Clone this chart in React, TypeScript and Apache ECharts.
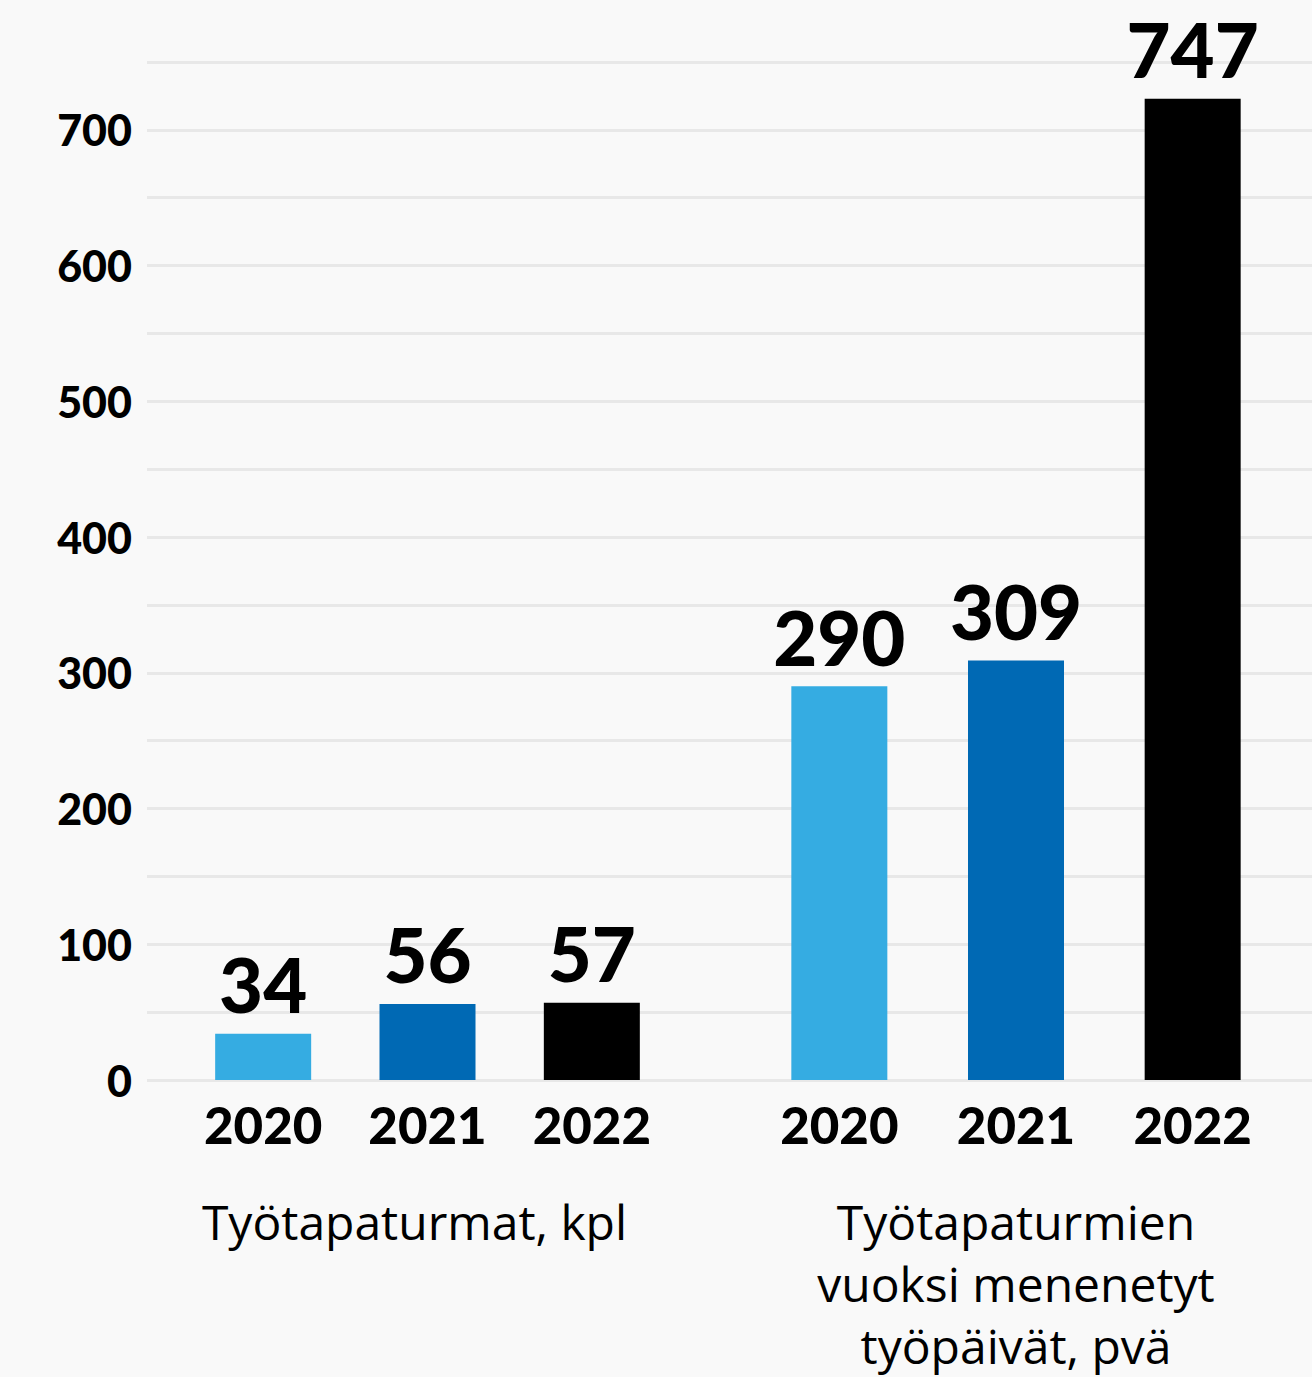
import React, { useEffect, useRef } from "react";
import * as echarts from "echarts";

// ---- data ----
const years = ["2020", "2021", "2022"];
const accidentValues = [34, 56, 57];
const lostDaysLabels = ["290", "309", "747"];
const lostDaysBars = [290, 309, 723]; // bar heights as drawn in the picture
const barColors = ["#35ace2", "#0069b4", "#000000"];
const groupNames = ["Työtapaturmat, kpl", "Työtapaturmien\nvuoksi menenetyt\ntyöpäivät, pvä"];
const yTicks = [0, 100, 200, 300, 400, 500, 600, 700];
const yMax = 750;
const yStep = 50;

export default function App() {
  const ref = useRef<HTMLDivElement>(null);

  useEffect(() => {
    document.body.style.margin = "0";
    const chart = echarts.init(ref.current!, null, { renderer: "svg" });

    const top = 62;
    const height = 1018;

    const valueLabel = {
      show: true,
      position: "top",
      distance: 12,
      fontFamily: "Lato",
      fontWeight: 900,
      fontSize: 76,
      color: "#000",
    };

    const hiddenY = (gridIndex: number) => ({
      type: "value",
      gridIndex,
      min: 0,
      max: yMax,
      interval: yStep,
      show: false,
      splitLine: { show: false },
    });

    const catX = (gridIndex: number, name: string, padding: number[]) => ({
      type: "category",
      gridIndex,
      data: years,
      axisLine: { show: false },
      axisTick: { show: false },
      axisLabel: {
        margin: 19,
        fontFamily: "Lato",
        fontWeight: 900,
        fontSize: 51,
        color: "#000",
      },
      name,
      nameLocation: "middle",
      nameGap: 110,
      nameTextStyle: {
        fontFamily: "Open Sans",
        fontSize: 48,
        lineHeight: 62,
        color: "#000",
        padding,
      },
    });

    const gridBase = { top, height, outerBoundsMode: "none", containLabel: false };

    chart.setOption({
      animation: false,
      backgroundColor: "#f9f9f9",
      grid: [
        { ...gridBase, left: 147, right: 0 },
        { ...gridBase, left: 181, width: 493 },
        { ...gridBase, left: 751, width: 530 },
      ],
      xAxis: [
        { type: "value", gridIndex: 0, show: false, min: 0, max: 1 },
        catX(1, groupNames[0], [0, 26, 0, 0]),
        catX(2, groupNames[1], [0, 0, 0, 0]),
      ],
      yAxis: [
        {
          type: "value",
          gridIndex: 0,
          min: 0,
          max: yMax,
          interval: yStep,
          axisLine: { show: false },
          axisTick: { show: false },
          axisLabel: {
            margin: 15,
            fontFamily: "Lato",
            fontWeight: 900,
            fontSize: 43,
            color: "#000",
            formatter: (v: number) => (yTicks.includes(v) ? String(v) : ""),
          },
          splitLine: { show: true, lineStyle: { color: "#e8e8e8", width: 3 } },
        },
        hiddenY(1),
        hiddenY(2),
      ],
      series: [
        {
          type: "bar",
          xAxisIndex: 1,
          yAxisIndex: 1,
          barWidth: 96,
          data: accidentValues.map((v, i) => ({ value: v, itemStyle: { color: barColors[i] } })),
          label: valueLabel,
        },
        {
          type: "bar",
          xAxisIndex: 2,
          yAxisIndex: 2,
          barWidth: 96,
          data: lostDaysBars.map((v, i) => ({ value: v, itemStyle: { color: barColors[i] } })),
          label: { ...valueLabel, formatter: (p: any) => lostDaysLabels[p.dataIndex] },
        },
      ],
    });

    return () => chart.dispose();
  }, []);

  return <div ref={ref} style={{ width: 1312, height: 1377, background: "#f9f9f9" }} />;
}
